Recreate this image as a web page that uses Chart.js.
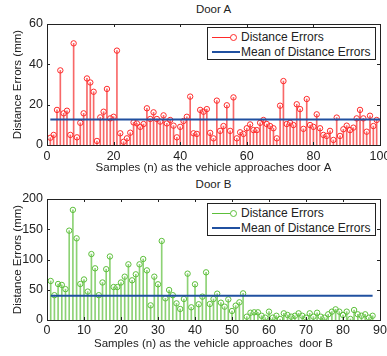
<!DOCTYPE html>
<html>
<head>
<meta charset="utf-8">
<script src="https://cdn.jsdelivr.net/npm/chart.js@4.4.1/dist/chart.umd.min.js"></script>
<style>
  body { margin: 0; background: #fff; font-family: "Liberation Sans", Arial, sans-serif; }
  #wrap { position: relative; width: 387px; height: 356px; overflow: hidden; }
  .panel { position: absolute; left: 0; width: 387px; height: 178px; }
  .title { position: absolute; left: 47px; width: 333px; text-align: center; font-size: 11.5px; color: #222; line-height: 13px; }
  .legend { position: absolute; left: 207px; width: 167px; height: 31px; border: 1px solid #222; background: #fff; font-size: 12px; color: #222; }
  .row { position: absolute; left: 0; height: 14px; line-height: 14px; white-space: nowrap; }
  .row .txt { position: absolute; left: 33px; top: 0; }
  .stem { position: absolute; left: 4px; top: 7px; width: 22px; height: 0; border-top: 1px solid; }
  .mark { position: absolute; left: 22px; top: 4px; width: 5px; height: 5px; border: 1px solid; border-radius: 50%; background: #fff; }
  .mean { position: absolute; left: 4px; top: 6px; width: 28px; height: 0; border-top: 2px solid #2050a0; }
</style>
</head>
<body>
<div id="wrap">
  <div class="title" style="top:3px">Door A</div>
  <div class="panel" style="top:0"><canvas id="doorA" width="387" height="178"></canvas></div>
  <div class="legend" style="top:27px">
    <div class="row" style="top:2px"><span class="stem" style="border-color:#ff2a2a"></span><span class="mark" style="border-color:#ff2a2a"></span><span class="txt">Distance Errors</span></div>
    <div class="row" style="top:17px"><span class="mean"></span><span class="txt">Mean of Distance Errors</span></div>
  </div>

  <div class="title" style="top:178px">Door B</div>
  <div class="panel" style="top:178px"><canvas id="doorB" width="387" height="178"></canvas></div>
  <div class="legend" style="top:203px">
    <div class="row" style="top:2px"><span class="stem" style="border-color:#5cbf3a"></span><span class="mark" style="border-color:#5cbf3a"></span><span class="txt">Distance Errors</span></div>
    <div class="row" style="top:17px"><span class="mean"></span><span class="txt">Mean of Distance Errors</span></div>
  </div>
</div>

<script>
const doorAErrors = [
  3.6, 5, 17.4, 37, 15.7, 17, 5, 50.4, 3.8, 11,
  15.7, 33, 31, 26.4, 2, 13.7, 16.5, 27.8, 13.2, 14,
  46.8, 5.8, 1.6, 3.3, 6.1, 11.2, 10.7, 9, 10.4, 18.2,
  12.9, 16.2, 12.9, 11.6, 14.7, 10.7, 12.4, 9.6, 3.8, 9,
  11.9, 14, 24, 5.8, 5.5, 17.4, 16.5, 17.8, 6, 3.3,
  22, 7, 9.4, 19.7, 7, 23.6, 3.3, 6.3, 5.5, 8.3,
  10.2, 7.4, 7.4, 11, 12.4, 10.4, 9.4, 8.3, 3.3, 19.5,
  31.7, 10.4, 11, 9.9, 20.2, 17.8, 8, 22.8, 9.9, 9,
  15.2, 8.3, 5, 4.5, 7, 2.5, 13.6, 4.5, 7.8, 9.6,
  7.4, 8.6, 13.2, 17.4, 13.2, 6.6, 14.5, 9.4, 12.4
];
const doorBErrors = [
  64.5, 41, 59.5, 58, 51, 147.7, 182, 135, 59.5, 67,
  47, 109, 85.4, 41, 62, 84, 105, 54.5, 54.5, 62,
  71.6, 92, 65.6, 75.5, 92, 100.8, 82, 24.2, 71.6, 59,
  130.6, 35.8, 49.6, 41, 27.5, 18.2, 34.7, 76.6, 21, 59,
  26, 38.6, 78.8, 26.4, 34.7, 43.5, 28.6, 22, 34, 14.9,
  23.7, 29.2, 44, 5.5, 12, 12.7, 12.7, 7, 3.9, 13.8,
  3.9, 7, 1.7, 11, 8.3, 5.5, 7, 11, 7, 3.9,
  11, 5.5, 12, 5.5, 3.9, 9.4, 13.8, 17.6, 13.8, 8.3,
  13.8, 1.7, 16.5, 9.4, 7, 9.4, 3.9, 7
];
const meanA = 12.7;
const meanB = 40.2;
const meanSpanA = [1, 100];
const meanSpanB = [1, 88];
const xLabelA = "Samples (n) as the vehicle approaches door A";
const xLabelB = "Samples (n) as the vehicle approaches  door B";
const yLabel = "Distance Errors (mm)";

const ink = "#222";
const blue = "#2050a0";
const tickFont = { size: 12.5, family: "Liberation Sans" };
const labelFont = { size: 11.5, family: "Liberation Sans" };

// box + inward tick marks, matlab style
const frame = {
  id: "frame",
  afterDatasetsDraw(chart) {
    const { ctx, chartArea: a, scales } = chart;
    ctx.save();
    ctx.strokeStyle = ink;
    ctx.lineWidth = 1;
    ctx.beginPath();
    scales.x.ticks.forEach((t) => {
      const px = Math.round(scales.x.getPixelForValue(t.value)) + 0.5;
      ctx.moveTo(px, a.bottom); ctx.lineTo(px, a.bottom - 3);
      ctx.moveTo(px, a.top); ctx.lineTo(px, a.top + 3);
    });
    scales.y.ticks.forEach((t) => {
      const py = Math.round(scales.y.getPixelForValue(t.value)) + 0.5;
      ctx.moveTo(a.left, py); ctx.lineTo(a.left + 3, py);
      ctx.moveTo(a.right, py); ctx.lineTo(a.right - 3, py);
    });
    ctx.stroke();
    ctx.strokeRect(Math.round(a.left) + 0.5, Math.round(a.top) + 0.5, Math.round(a.right - a.left), Math.round(a.bottom - a.top));
    ctx.restore();
  }
};

function stemChart(id, values, mean, span, color, stemColor, xMax, xStep, yMax, yStep, xLabel, padTop, xHeight, tickPad, titlePad) {
  const points = values.map((v, i) => ({ x: i + 1, y: v }));
  return new Chart(document.getElementById(id), {
    type: "line",
    data: {
      datasets: [
        { type: "line", data: span.map((x) => ({ x, y: mean })), borderColor: blue, borderWidth: 2, pointRadius: 0, order: 0 },
        { type: "line", data: points, showLine: false, pointRadius: 2.7, pointBorderWidth: 1, pointBorderColor: color, pointBackgroundColor: "rgba(255,255,255,0)", order: 1 },
        { type: "bar", data: points, backgroundColor: stemColor, barThickness: 1, order: 2 }
      ]
    },
    options: {
      responsive: false,
      animation: false,
      layout: { padding: { top: padTop, right: 7, left: 0, bottom: 0 } },
      plugins: { legend: { display: false }, tooltip: { enabled: false } },
      scales: {
        x: {
          type: "linear", min: 0, max: xMax, offset: false,
          grid: { display: false, drawTicks: false, tickLength: 0 }, border: { display: false },
          ticks: { stepSize: xStep, color: ink, font: tickFont, padding: tickPad, maxRotation: 0 },
          title: { display: true, text: xLabel, color: ink, font: labelFont, padding: { top: 0, bottom: titlePad } },
          afterFit: (s) => { s.height = xHeight; s.paddingLeft = 0; s.paddingRight = 0; }
        },
        y: {
          min: 0, max: yMax,
          grid: { display: false, drawTicks: false, tickLength: 0 }, border: { display: false },
          ticks: { stepSize: yStep, color: ink, font: tickFont, padding: 4 },
          title: { display: true, text: yLabel, color: ink, font: labelFont, padding: { top: 11, bottom: 0 } },
          afterFit: (s) => { s.width = 47; }
        }
      }
    },
    plugins: [frame]
  });
}

stemChart("doorA", doorAErrors, meanA, meanSpanA, "#ff2a2a", "rgba(245,40,40,0.7)", 100, 20, 60, 20, xLabelA, 24, 33, 4.5, 3);
stemChart("doorB", doorBErrors, meanB, meanSpanB, "#5cbf3a", "rgba(92,191,58,0.7)", 90, 10, 200, 50, xLabelB, 21, 36, 3.5, 5);
</script>
</body>
</html>
